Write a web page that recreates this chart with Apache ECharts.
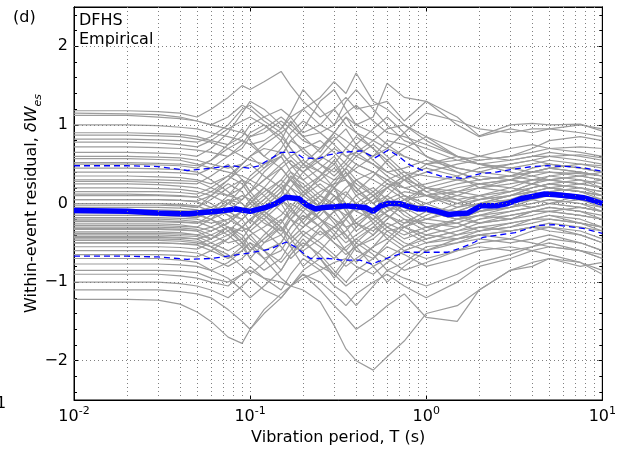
<!DOCTYPE html>
<html>
<head>
<meta charset="utf-8">
<script src="https://cdn.jsdelivr.net/npm/echarts@6/dist/echarts.min.js"></script>
<style>html,body{margin:0;padding:0;background:#fff}#c{width:619px;height:451px}</style>
</head>
<body>
<div id="c"></div>
<script>
// Periods (s) at which each record's residual is read
const periods = [0.01,0.02,0.03,0.04,0.05,0.06,0.075,0.09,0.1,0.12,0.15,0.17,0.2,0.25,0.3,0.35,0.4,0.5,0.6,0.75,1,1.5,2,3,4,5,7.5,10];

// Within-event residuals of individual records (gray lines)
const records = [
 [1.18,1.18,1.17,1.15,1.1,1.2,1.35,1.5,1.45,1.55,1.68,1.5,1.3,1.1,1.2,1.0,0.9,0.8,0.7,0.6,0.5,0.4,0.3,0.35,0.4,0.45,0.4,0.35],
 [1.15,1.14,1.13,1.1,1.05,1.0,1.1,1.25,1.2,1.05,0.9,1.0,1.2,1.35,1.55,1.4,1.66,1.3,1.2,1.0,0.85,0.7,0.6,0.55,0.6,0.6,0.55,0.5],
 [1.12,1.12,1.1,1.08,1.05,1.0,0.95,0.9,0.85,0.9,1.05,0.95,0.8,0.7,0.9,1.1,1.0,1.1,1.53,1.35,1.3,1.1,0.86,1.0,1.02,1.0,1.01,0.92],
 [1.0,1.0,0.99,0.97,0.95,0.9,0.85,0.8,0.75,0.8,0.95,1.1,1.2,1.0,0.9,0.8,0.7,0.6,0.7,0.9,1.15,1.05,0.95,0.9,0.95,0.95,0.9,0.85],
 [0.87,0.87,0.86,0.85,0.82,0.78,0.7,0.6,0.55,0.5,0.6,0.8,0.95,1.3,1.45,1.2,1.0,0.9,0.75,0.6,0.5,0.55,0.6,0.7,0.75,0.7,0.65,0.6],
 [0.78,0.78,0.77,0.75,0.72,0.8,0.95,1.05,1.1,1.0,0.85,0.7,0.5,0.4,0.3,0.35,0.45,0.6,0.8,0.75,0.6,0.45,0.4,0.5,0.55,0.5,0.45,0.4],
 [0.72,0.72,0.71,0.7,0.68,0.65,0.6,0.7,0.85,0.95,1.1,1.0,0.85,0.9,1.0,1.15,1.25,1.05,0.9,0.85,0.75,0.6,0.55,0.6,0.7,0.8,0.85,0.8],
 [0.6,0.6,0.59,0.58,0.55,0.5,0.45,0.5,0.6,0.7,0.65,0.5,0.4,0.55,0.7,0.6,0.5,0.4,0.3,0.2,0.25,0.35,0.45,0.5,0.55,0.6,0.62,0.58],
 [0.57,0.57,0.56,0.55,0.5,0.45,0.4,0.35,0.3,0.45,0.7,0.9,1.05,0.9,0.75,0.6,0.65,0.8,0.95,1.0,0.8,0.6,0.5,0.45,0.5,0.55,0.5,0.45],
 [0.52,0.52,0.51,0.5,0.48,0.55,0.7,0.8,0.75,0.6,0.45,0.3,0.2,0.35,0.5,0.7,0.85,0.7,0.5,0.3,0.2,0.15,0.2,0.3,0.35,0.4,0.38,0.35],
 [0.35,0.35,0.34,0.33,0.3,0.25,0.35,0.5,0.6,0.75,0.9,0.7,0.5,0.3,0.2,0.1,0.0,0.15,0.3,0.4,0.35,0.3,0.25,0.3,0.4,0.45,0.5,0.48],
 [0.3,0.3,0.3,0.29,0.28,0.2,0.1,0.05,0.15,0.3,0.5,0.6,0.7,0.8,0.65,0.5,0.4,0.3,0.2,0.3,0.4,0.5,0.55,0.6,0.65,0.7,0.72,0.7],
 [0.25,0.25,0.24,0.22,0.2,0.15,0.1,0.2,0.3,0.2,0.05,-0.1,-0.2,0.0,0.2,0.35,0.5,0.4,0.25,0.1,0.0,0.1,0.2,0.25,0.3,0.3,0.25,0.2],
 [0.2,0.2,0.19,0.18,0.15,0.1,0.0,-0.1,-0.05,0.1,0.3,0.45,0.55,0.4,0.2,0.0,-0.1,0.05,0.2,0.35,0.45,0.35,0.2,0.15,0.25,0.35,0.3,0.2],
 [0.12,0.12,0.11,0.1,0.08,0.15,0.3,0.45,0.5,0.35,0.2,0.3,0.5,0.7,0.85,0.7,0.6,0.5,0.4,0.3,0.1,-0.05,0.0,0.1,0.2,0.25,0.2,0.1],
 [0.05,0.05,0.05,0.04,0.02,-0.05,-0.15,-0.2,-0.1,0.05,0.25,0.4,0.3,0.1,-0.05,-0.15,-0.05,0.1,0.25,0.2,0.1,0.05,0.1,0.2,0.3,0.35,0.4,0.35],
 [0.0,0.0,0.0,-0.02,-0.05,0.05,0.2,0.3,0.25,0.1,-0.1,-0.2,-0.3,-0.15,0.05,0.2,0.3,0.4,0.3,0.1,-0.05,-0.1,0.0,0.1,0.15,0.2,0.15,0.1],
 [-0.05,-0.05,-0.05,-0.06,-0.08,-0.15,-0.1,0.05,0.15,0.3,0.45,0.55,0.4,0.2,0.1,0.0,-0.1,-0.2,-0.1,0.05,0.1,0.2,0.25,0.2,0.15,0.1,0.05,0.0],
 [-0.08,-0.08,-0.08,-0.09,-0.1,-0.05,0.05,0.0,-0.1,-0.25,-0.35,-0.2,0.0,0.15,0.25,0.3,0.2,0.0,-0.15,-0.25,-0.2,-0.1,0.0,0.05,0.1,0.15,0.2,0.15],
 [-0.12,-0.12,-0.12,-0.13,-0.15,-0.2,-0.3,-0.35,-0.3,-0.15,0.05,0.2,0.1,-0.05,-0.2,-0.3,-0.25,-0.1,0.05,0.15,0.1,0.0,-0.05,0.0,0.1,0.15,0.1,0.05],
 [-0.15,-0.15,-0.15,-0.16,-0.18,-0.1,0.0,0.1,0.05,-0.1,-0.25,-0.1,0.1,0.25,0.1,-0.1,-0.25,-0.35,-0.2,0.0,-0.1,-0.2,-0.15,-0.05,0.05,0.1,0.05,-0.05],
 [-0.18,-0.18,-0.18,-0.19,-0.2,-0.25,-0.2,-0.1,0.0,0.15,0.3,0.2,0.0,-0.2,-0.3,-0.2,-0.05,0.1,0.2,0.05,-0.1,-0.2,-0.1,0.0,0.05,0.0,-0.05,-0.1],
 [-0.2,-0.2,-0.2,-0.21,-0.23,-0.3,-0.4,-0.3,-0.2,-0.1,0.1,0.35,0.25,0.05,-0.1,-0.05,0.1,0.2,0.05,-0.15,-0.3,-0.25,-0.15,-0.1,-0.05,0.0,0.05,0.0],
 [-0.23,-0.23,-0.23,-0.24,-0.25,-0.2,-0.1,-0.2,-0.35,-0.5,-0.4,-0.2,-0.05,-0.2,-0.35,-0.5,-0.4,-0.25,-0.1,0.0,-0.05,-0.15,-0.1,-0.05,0.0,0.05,0.0,-0.1],
 [-0.26,-0.26,-0.26,-0.27,-0.3,-0.35,-0.25,-0.1,0.0,-0.15,-0.3,-0.45,-0.3,-0.1,0.05,0.15,0.0,-0.2,-0.35,-0.3,-0.15,0.0,0.1,0.15,0.2,0.25,0.2,0.15],
 [-0.3,-0.3,-0.3,-0.31,-0.33,-0.4,-0.5,-0.45,-0.3,-0.1,0.05,-0.05,-0.25,-0.4,-0.3,-0.15,-0.05,-0.15,-0.3,-0.4,-0.3,-0.2,-0.15,-0.2,-0.15,-0.1,-0.15,-0.2],
 [-0.33,-0.33,-0.33,-0.34,-0.35,-0.3,-0.2,-0.3,-0.45,-0.6,-0.5,-0.3,-0.15,-0.3,-0.45,-0.35,-0.2,-0.05,-0.15,-0.3,-0.45,-0.35,-0.25,-0.2,-0.1,-0.05,-0.1,-0.15],
 [-0.36,-0.36,-0.36,-0.37,-0.4,-0.45,-0.35,-0.2,-0.1,-0.2,-0.4,-0.55,-0.6,-0.45,-0.3,-0.4,-0.55,-0.45,-0.3,-0.2,-0.25,-0.3,-0.2,-0.1,-0.05,0.0,-0.05,-0.1],
 [-0.4,-0.4,-0.4,-0.41,-0.42,-0.5,-0.6,-0.5,-0.4,-0.3,-0.15,0.0,-0.1,-0.3,-0.5,-0.6,-0.45,-0.3,-0.4,-0.55,-0.45,-0.35,-0.3,-0.35,-0.3,-0.25,-0.3,-0.35],
 [-0.43,-0.43,-0.43,-0.44,-0.45,-0.4,-0.3,-0.4,-0.55,-0.7,-0.6,-0.4,-0.2,-0.05,-0.2,-0.4,-0.6,-0.7,-0.5,-0.3,-0.2,-0.25,-0.35,-0.3,-0.2,-0.15,-0.2,-0.3],
 [-0.47,-0.47,-0.47,-0.48,-0.5,-0.55,-0.45,-0.3,-0.2,-0.35,-0.55,-0.7,-0.55,-0.35,-0.5,-0.65,-0.55,-0.4,-0.25,-0.35,-0.5,-0.4,-0.3,-0.25,-0.2,-0.15,-0.25,-0.35],
 [-0.5,-0.5,-0.5,-0.51,-0.53,-0.6,-0.7,-0.6,-0.5,-0.6,-0.75,-0.6,-0.4,-0.55,-0.7,-0.55,-0.45,-0.6,-0.7,-0.55,-0.4,-0.45,-0.4,-0.35,-0.3,-0.3,-0.35,-0.45],
 [-0.55,-0.55,-0.55,-0.56,-0.58,-0.5,-0.4,-0.55,-0.7,-0.85,-0.7,-0.5,-0.35,-0.5,-0.65,-0.8,-0.7,-0.55,-0.45,-0.6,-0.7,-0.6,-0.5,-0.45,-0.35,-0.3,-0.4,-0.5],
 [-0.6,-0.6,-0.6,-0.61,-0.63,-0.7,-0.8,-0.7,-0.6,-0.45,-0.3,-0.45,-0.65,-0.8,-0.9,-0.7,-0.5,-0.65,-0.85,-0.75,-0.55,-0.5,-0.45,-0.5,-0.45,-0.4,-0.5,-0.6],
 [-0.77,-0.77,-0.77,-0.78,-0.8,-0.85,-0.75,-0.6,-0.5,-0.7,-0.95,-1.05,-0.85,-0.7,-0.9,-1.05,-0.95,-0.8,-0.7,-0.85,-0.75,-0.6,-0.55,-0.6,-0.55,-0.5,-0.6,-0.7],
 [-0.9,-0.9,-0.9,-0.92,-0.95,-1.0,-1.05,-0.9,-0.8,-0.95,-1.1,-0.9,-0.7,-0.85,-1.05,-1.15,-1.3,-1.05,-0.85,-0.95,-1.05,-0.9,-0.75,-0.65,-0.55,-0.45,-0.5,-0.6],
 [-1.0,-1.0,-1.0,-1.02,-1.05,-1.1,-1.2,-1.05,-0.95,-1.1,-1.2,-1.05,-0.9,-1.1,-1.3,-1.45,-1.6,-1.45,-1.3,-1.15,-1.45,-1.5,-1.1,-0.85,-0.75,-0.7,-0.75,-0.85],
 [-1.1,-1.1,-1.1,-1.12,-1.15,-1.2,-1.35,-1.5,-1.6,-1.4,-1.2,-1.05,-0.9,-1.0,-1.15,-1.3,-1.15,-1.0,-0.9,-1.05,-1.2,-1.0,-0.8,-0.7,-0.6,-0.55,-0.6,-0.7],
 [-1.22,-1.22,-1.23,-1.28,-1.38,-1.5,-1.7,-1.78,-1.6,-1.35,-1.15,-1.05,-0.95,-0.85,-0.75,-0.7,-0.8,-0.9,-0.75,-0.6,-0.5,-0.45,-0.4,-0.45,-0.5,-0.55,-0.6,-0.65],
 [-0.85,-0.85,-0.85,-0.86,-0.88,-0.95,-1.0,-0.9,-0.85,-0.95,-1.0,-1.05,-1.1,-1.25,-1.55,-1.85,-2.0,-2.12,-1.95,-1.75,-1.4,-1.3,-1.1,-0.85,-0.8,-0.7,-0.8,-0.75],
 [0.4,0.4,0.4,0.39,0.37,0.45,0.6,0.75,0.9,1.0,0.8,0.6,0.45,0.6,0.8,0.95,0.75,0.55,0.4,0.45,0.55,0.45,0.4,0.35,0.3,0.3,0.25,0.2],
 [0.1,0.1,0.1,0.09,0.08,0.0,-0.15,-0.3,-0.35,-0.2,0.0,0.2,0.4,0.6,0.5,0.3,0.15,0.0,0.1,0.3,0.5,0.6,0.5,0.4,0.35,0.3,0.35,0.4],
 [-0.02,-0.02,-0.02,-0.03,-0.05,0.1,0.3,0.5,0.6,0.45,0.6,0.8,0.7,0.5,0.35,0.5,0.65,0.5,0.35,0.2,0.1,0.15,0.25,0.3,0.25,0.2,0.15,0.05],
 [-0.28,-0.28,-0.28,-0.29,-0.3,-0.2,0.0,0.2,0.35,0.5,0.65,0.5,0.3,0.45,0.6,0.4,0.25,0.1,-0.05,-0.1,0.0,0.15,0.1,0.0,-0.05,0.0,0.1,0.05],
 [-0.38,-0.38,-0.38,-0.39,-0.4,-0.35,-0.25,-0.1,0.05,0.2,0.0,-0.2,-0.4,-0.25,-0.1,0.1,0.3,0.15,-0.05,-0.2,-0.35,-0.2,-0.1,0.0,0.1,0.15,0.1,0.0],
 [-0.45,-0.45,-0.45,-0.46,-0.48,-0.55,-0.65,-0.8,-0.9,-0.75,-0.5,-0.3,-0.1,0.1,0.0,-0.2,-0.35,-0.2,0.0,0.1,0.0,-0.15,-0.25,-0.2,-0.1,-0.05,-0.1,-0.2],
 [0.45,0.45,0.44,0.43,0.4,0.3,0.15,0.0,-0.1,0.05,0.25,0.1,-0.05,0.1,0.3,0.45,0.6,0.75,0.6,0.4,0.2,0.05,-0.05,0.05,0.15,0.2,0.15,0.1],
 [0.65,0.65,0.64,0.63,0.6,0.7,0.9,1.15,1.3,1.2,1.0,0.85,0.65,0.5,0.4,0.55,0.75,0.95,1.1,0.9,0.6,0.4,0.3,0.35,0.45,0.5,0.45,0.4],
 [-0.65,-0.65,-0.65,-0.66,-0.68,-0.6,-0.45,-0.3,-0.2,-0.05,0.15,0.3,0.15,-0.05,-0.25,-0.45,-0.3,-0.1,0.05,-0.1,-0.3,-0.4,-0.35,-0.25,-0.2,-0.2,-0.25,-0.3],
 [-0.7,-0.7,-0.7,-0.72,-0.75,-0.85,-0.95,-1.1,-1.2,-1.05,-0.85,-0.65,-0.5,-0.65,-0.85,-1.0,-0.85,-0.7,-0.55,-0.65,-0.8,-0.7,-0.6,-0.55,-0.6,-0.65,-0.75,-0.9],
 [0.15,0.15,0.15,0.14,0.12,0.2,0.35,0.25,0.1,-0.1,-0.3,-0.45,-0.3,-0.1,0.1,-0.05,-0.25,-0.4,-0.2,0.0,0.2,0.3,0.35,0.3,0.25,0.2,0.25,0.3],
 [-0.1,-0.1,-0.1,-0.11,-0.13,-0.2,-0.35,-0.5,-0.6,-0.45,-0.25,-0.05,0.15,0.3,0.45,0.3,0.1,-0.1,-0.3,-0.45,-0.35,-0.2,-0.1,-0.05,0.0,0.05,0.0,-0.05],
 [0.9,0.9,0.89,0.88,0.85,0.8,0.75,0.85,1.0,1.1,1.2,1.1,0.9,1.0,1.2,1.35,1.2,1.25,1.3,1.05,1.3,1.0,0.85,0.95,0.9,0.95,1.0,0.95],
 [0.82,0.82,0.81,0.8,0.78,0.85,1.0,1.2,1.25,1.1,0.95,1.15,1.45,1.2,1.0,1.3,1.45,1.2,1.0,0.8,0.7,0.55,0.5,0.55,0.6,0.65,0.6,0.55],
 [0.05,0.05,0.05,0.04,0.03,0.1,0.25,0.15,0.0,0.2,0.45,0.3,0.1,0.35,0.55,0.3,0.15,0.35,0.55,0.35,0.15,0.25,0.3,0.35,0.4,0.4,0.35,0.3],
 [-0.22,-0.22,-0.22,-0.23,-0.25,-0.15,0.05,-0.1,-0.25,0.0,0.2,-0.05,-0.25,0.0,0.2,-0.1,-0.3,-0.1,0.1,-0.05,-0.2,-0.05,0.05,0.1,0.2,0.25,0.3,0.25],
 [-0.32,-0.32,-0.32,-0.33,-0.35,-0.45,-0.3,-0.5,-0.7,-0.5,-0.3,-0.55,-0.8,-0.6,-0.4,-0.6,-0.75,-0.55,-0.35,-0.5,-0.6,-0.45,-0.35,-0.3,-0.25,-0.2,-0.25,-0.3],
 [0.28,0.28,0.27,0.26,0.25,0.35,0.5,0.3,0.15,0.4,0.6,0.4,0.2,0.0,0.25,0.45,0.3,0.1,-0.1,0.05,0.2,0.1,0.05,0.15,0.25,0.3,0.35,0.3],
 [-0.5,-0.5,-0.5,-0.51,-0.52,-0.45,-0.3,-0.45,-0.6,-0.4,-0.2,-0.4,-0.55,-0.3,-0.1,-0.3,-0.5,-0.3,-0.15,-0.3,-0.4,-0.3,-0.2,-0.15,-0.1,-0.1,-0.15,-0.2],
 [0.0,0.0,0.0,-0.01,-0.03,-0.1,-0.25,-0.1,0.05,-0.15,-0.35,-0.15,0.05,-0.2,-0.4,-0.2,0.0,-0.25,-0.45,-0.25,-0.1,-0.2,-0.25,-0.15,-0.1,-0.1,-0.05,-0.1],
 [0.5,0.5,0.49,0.48,0.45,0.55,0.75,0.95,0.8,0.6,0.8,1.05,0.85,0.65,0.9,1.1,0.9,0.7,0.55,0.7,0.85,0.6,0.5,0.45,0.4,0.45,0.4,0.35],
 [-0.42,-0.42,-0.42,-0.43,-0.45,-0.55,-0.7,-0.55,-0.4,-0.6,-0.85,-0.65,-0.45,-0.7,-0.95,-0.75,-0.55,-0.8,-1.0,-0.8,-0.6,-0.5,-0.4,-0.35,-0.3,-0.35,-0.4,-0.5],
 [-0.15,-0.15,-0.15,-0.16,-0.17,-0.1,0.1,0.3,0.15,-0.05,0.15,0.35,0.15,-0.05,0.2,0.4,0.2,0.0,0.2,0.35,0.15,0.0,0.05,0.1,0.15,0.2,0.15,0.1]
];

// Mean residual (thick blue)
const meanPeriods = [0.01,0.02,0.03,0.04,0.045,0.05,0.065,0.083,0.1,0.123,0.14,0.16,0.19,0.21,0.236,0.26,0.306,0.35,0.4,0.45,0.5,0.55,0.61,0.7,0.8,0.9,1.0,1.15,1.33,1.5,1.73,2.04,2.5,2.9,3.44,4.0,4.7,5.5,6.9,8.0,10];
const meanValues = [-0.09,-0.1,-0.12,-0.13,-0.13,-0.12,-0.1,-0.07,-0.1,-0.05,0.0,0.08,0.06,-0.02,-0.07,-0.05,-0.04,-0.03,-0.04,-0.05,-0.1,-0.03,0.0,0.0,-0.04,-0.07,-0.07,-0.1,-0.14,-0.13,-0.12,-0.03,-0.03,0.0,0.06,0.09,0.12,0.11,0.09,0.07,0.0];

// Mean + 1 std (dashed)
const upperPeriods = [0.01,0.02,0.03,0.044,0.055,0.079,0.098,0.112,0.15,0.18,0.2,0.245,0.28,0.33,0.43,0.51,0.61,0.7,0.79,0.93,1.2,1.58,2.04,2.5,3.2,4.0,4.9,6.5,8,10];
const upperValues = [0.48,0.48,0.47,0.42,0.44,0.48,0.45,0.48,0.65,0.65,0.58,0.57,0.62,0.65,0.67,0.58,0.68,0.6,0.5,0.43,0.35,0.32,0.38,0.4,0.44,0.47,0.48,0.47,0.45,0.41];

// Mean - 1 std (dashed)
const lowerPeriods = [0.01,0.02,0.03,0.044,0.06,0.08,0.098,0.13,0.16,0.18,0.22,0.28,0.33,0.42,0.49,0.61,0.76,1.0,1.33,1.6,1.89,2.1,3.2,4.3,5.3,7.9,10];
const lowerValues = [-0.67,-0.67,-0.68,-0.71,-0.7,-0.66,-0.63,-0.58,-0.49,-0.55,-0.7,-0.7,-0.72,-0.72,-0.77,-0.69,-0.62,-0.62,-0.62,-0.56,-0.49,-0.43,-0.37,-0.28,-0.27,-0.32,-0.38];

// Axis ticks / grid
const yTickLabels = [-2,-1,0,1,2];
const yMinorTicks = [-2.4,-2.2,-2,-1.8,-1.6,-1.4,-1.2,-1,-0.8,-0.6,-0.4,-0.2,0,0.2,0.4,0.6,0.8,1,1.2,1.4,1.6,1.8,2,2.2,2.4];
const xGridValues = [0.02,0.03,0.04,0.05,0.06,0.07,0.08,0.09,0.1,0.2,0.3,0.4,0.5,0.6,0.7,0.8,0.9,1,2,3,4,5,6,7,8,9];

const FONT = 'DejaVu Sans';
const chart = echarts.init(document.getElementById('c'), null, {renderer:'canvas'});

const zip = (xs, ys) => xs.map((x, i) => [x, ys[i]]);
const fmtNum = v => (v < 0 ? '\u2212' + (-v) : String(v));

const series = [];
series.push({
  type: 'line', data: [], silent: true, z: 1,
  markLine: {
    silent: true, symbol: ['none','none'], label: {show: false}, animation: false,
    lineStyle: {color: '#808080', width: 1, type: [1, 3]},
    data: yTickLabels.map(v => ({yAxis: v})).concat(xGridValues.map(v => ({xAxis: v})))
  }
});
records.forEach(r => {
  series.push({
    type: 'line', data: zip(periods, r), symbol: 'none', z: 2, silent: true,
    lineStyle: {color: '#9c9c9c', width: 1.2}
  });
});
series.push({type:'line', data: zip(upperPeriods, upperValues), symbol:'none', z: 3,
  lineStyle: {color:'#0000ff', width: 1.3, type: [6, 4]}});
series.push({type:'line', data: zip(lowerPeriods, lowerValues), symbol:'none', z: 3,
  lineStyle: {color:'#0000ff', width: 1.3, type: [6, 4]}});
series.push({type:'line', data: zip(meanPeriods, meanValues), symbol:'none', z: 4,
  lineStyle: {color:'#0000ff', width: 5.5}});

const xCommon = {
  type: 'log', logBase: 10, min: 0.01, max: 10,
  axisLine: {show: true, onZero: false, lineStyle: {color: '#000', width: 1}},
  axisTick: {show: true, inside: true, length: 5, lineStyle: {color: '#000'}},
  splitLine: {show: false}
};
const yCommon = {
  type: 'value', min: -2.5, max: 2.5,
  axisLine: {show: true, onZero: false, lineStyle: {color: '#000', width: 1}},
  splitLine: {show: false}
};

chart.setOption({
  animation: false,
  backgroundColor: '#fff',
  grid: {left: 74, right: 14, top: 7, bottom: 50, show: true, borderColor: '#000', borderWidth: 1, backgroundColor: 'transparent'},
  xAxis: [
    Object.assign({}, xCommon, {
      position: 'bottom',
      name: 'Vibration period, T (s)', nameLocation: 'middle', nameGap: 30, nameMoveOverlap: false,
      nameTextStyle: {fontFamily: FONT, fontSize: 16, color: '#000'},
      axisLabel: {
        margin: 9, color: '#000',
        formatter: v => {
          const e = Math.round(Math.log10(v));
          return '{b|10}{s|' + (e < 0 ? '-' + (-e) : e) + '}';
        },
        rich: {
          b: {fontFamily: FONT, fontSize: 16, lineHeight: 16, verticalAlign: 'bottom', color: '#000'},
          s: {fontFamily: FONT, fontSize: 11, lineHeight: 11, verticalAlign: 'bottom', padding: [0,0,8,0], color: '#000'}
        }
      }
    }),
    Object.assign({}, xCommon, {position: 'top', axisLabel: {show: false}})
  ],
  yAxis: [
    Object.assign({}, yCommon, {
      position: 'left',
      name: '{n|Within-event residual, }{m|\u03b4W}{sub|es}', nameLocation: 'middle', nameGap: 30, nameMoveOverlap: false,
      nameTextStyle: {
        rich: {
          n: {fontFamily: FONT, fontSize: 16, lineHeight: 20, verticalAlign: 'top', color: '#000'},
          m: {fontFamily: FONT, fontSize: 16, fontStyle: 'italic', lineHeight: 20, verticalAlign: 'top', color: '#000'},
          sub: {fontFamily: FONT, fontSize: 11, fontStyle: 'italic', lineHeight: 11, verticalAlign: 'bottom', color: '#000'}
        }
      },
      axisTick: {show: true, inside: true, length: 5, customValues: yTickLabels, lineStyle: {color: '#000'}},
      axisLabel: {show: true, customValues: yTickLabels, margin: 6, fontFamily: FONT, fontSize: 16, color: '#000', formatter: fmtNum}
    }),
    Object.assign({}, yCommon, {
      position: 'left',
      axisTick: {show: true, inside: true, length: 3, customValues: yMinorTicks, lineStyle: {color: '#000'}},
      axisLabel: {show: false}
    }),
    Object.assign({}, yCommon, {
      position: 'right',
      axisTick: {show: true, inside: true, length: 5, customValues: yTickLabels, lineStyle: {color: '#000'}},
      axisLabel: {show: false}
    }),
    Object.assign({}, yCommon, {
      position: 'right',
      axisTick: {show: true, inside: true, length: 3, customValues: yMinorTicks, lineStyle: {color: '#000'}},
      axisLabel: {show: false}
    })
  ],
  graphic: [
    {type: 'text', left: 13, top: 10, style: {text: '(d)', fontFamily: FONT, fontSize: 16, fill: '#000'}},
    {type: 'text', left: 79, top: 11, style: {text: 'DFHS\nEmpirical', fontFamily: FONT, fontSize: 16, lineHeight: 19, fill: '#000'}},
    {type: 'text', left: -4, top: 396, style: {text: '1', fontFamily: FONT, fontSize: 16, fill: '#000'}}
  ],
  series: series
});
</script>
</body>
</html>
